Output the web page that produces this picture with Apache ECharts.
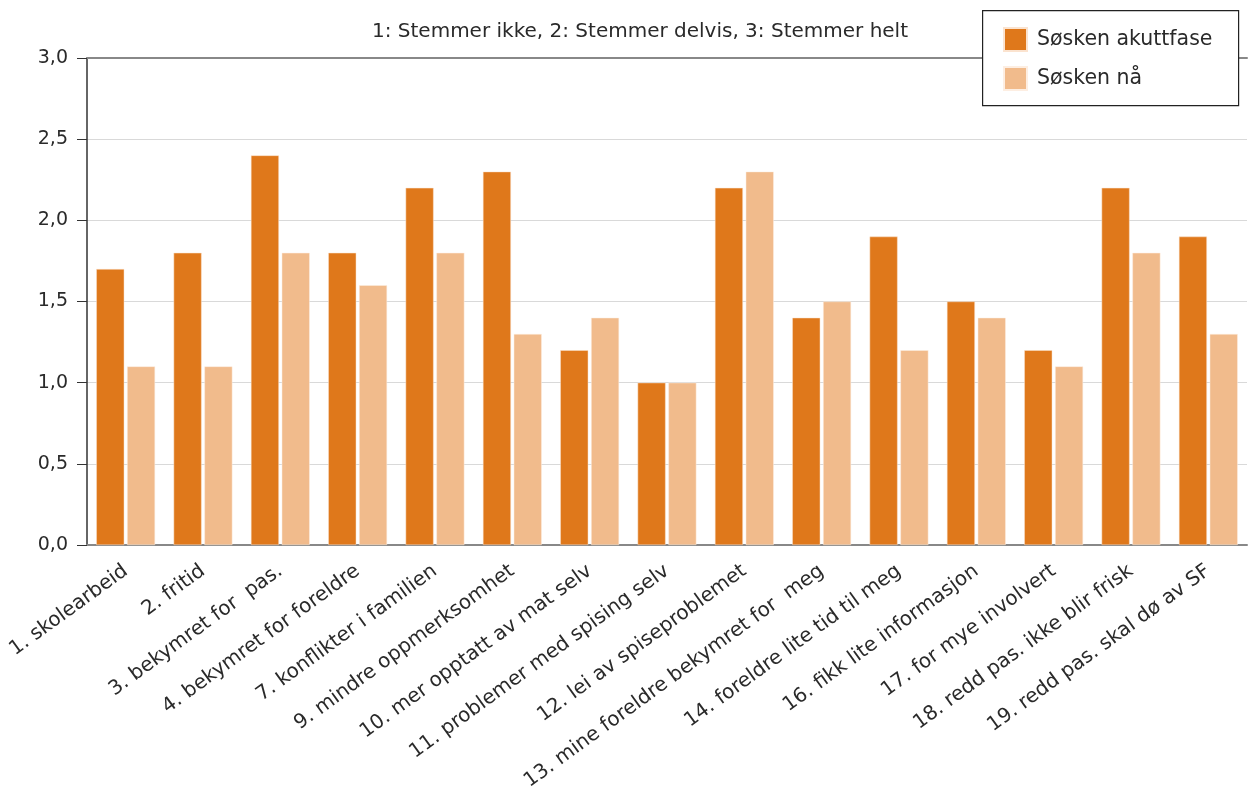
<!DOCTYPE html>
<html>
<head>
<meta charset="utf-8">
<script src="https://cdn.jsdelivr.net/npm/echarts@6/dist/echarts.min.js"></script>
<style>html,body{margin:0;padding:0;background:#fff}#c{width:1256px;height:797px}</style>
</head>
<body>
<div id="c"></div>
<script>
const categories = ["1. skolearbeid", "2. fritid", "3. bekymret for  pas.", "4. bekymret for foreldre", "7. konflikter i familien", "9. mindre oppmerksomhet", "10. mer opptatt av mat selv", "11. problemer med spising selv", "12. lei av spiseproblemet", "13. mine foreldre bekymret for  meg", "14. foreldre lite tid til meg", "16. fikk lite informasjon", "17. for mye involvert", "18. redd pas. ikke blir frisk", "19. redd pas. skal dø av SF"];
const akuttfase = [1.7, 1.8, 2.4, 1.8, 2.2, 2.3, 1.2, 1.0, 2.2, 1.4, 1.9, 1.5, 1.2, 2.2, 1.9];
const naa = [1.1, 1.1, 1.8, 1.6, 1.8, 1.3, 1.4, 1.0, 2.3, 1.5, 1.2, 1.4, 1.1, 1.8, 1.3];
const seriesNames = ["Søsken akuttfase", "Søsken nå"];
const titleText = "1: Stemmer ikke, 2: Stemmer delvis, 3: Stemmer helt";

const FONT = "'DejaVu Sans', sans-serif";
const TXT = '#2a2a2a';
const chart = echarts.init(document.getElementById('c'));
chart.setOption({
  animation: false,
  textStyle: {fontFamily: FONT},
  title: {text: titleText, left: 635, textAlign: 'center', top: 17,
    textStyle: {fontSize: 20, fontWeight: 'normal', color: TXT, fontFamily: FONT}},
  graphic: [{
    type: 'rect', left: 982, top: 10, z: 50,
    shape: {width: 256, height: 95},
    style: {fill: '#fff', stroke: '#222', lineWidth: 1.2}
  }],
  legend: {
    data: seriesNames, orient: 'vertical', left: 1003, top: 27,
    padding: 0, itemGap: 14, itemWidth: 23, itemHeight: 23, icon: 'rect',
    textStyle: {fontSize: 20.5, lineHeight: 23, color: TXT, fontFamily: FONT, padding: [0, 0, 0, 5]},
    z: 60
  },
  grid: {left: 87, right: 9, top: 58, bottom: 252, containLabel: false},
  xAxis: [{
    type: 'category', data: categories,
    axisLine: {lineStyle: {color: '#888', width: 2}},
    axisTick: {show: false},
    axisLabel: {rotate: 36, fontSize: 20, color: TXT, margin: 24, interval: 0, fontFamily: FONT}
  }, {
    type: 'category', data: categories, position: 'top',
    axisLine: {lineStyle: {color: '#888', width: 2}},
    axisTick: {show: false}, axisLabel: {show: false}
  }],
  yAxis: {
    type: 'value', min: 0, max: 3, interval: 0.5,
    axisLine: {show: true, lineStyle: {color: '#333', width: 1.5}},
    axisTick: {show: true, length: 10, lineStyle: {color: '#333'}},
    axisLabel: {fontSize: 19, color: TXT, margin: 19, fontFamily: FONT,
      formatter: v => v.toFixed(1).replace('.', ',')},
    splitLine: {lineStyle: {color: '#d9d9d9', width: 1}}
  },
  series: [{
    name: seriesNames[0], type: 'bar', data: akuttfase, barWidth: 28, barGap: '10%',
    itemStyle: {color: '#DF781B', borderColor: '#fbe3cf', borderWidth: 0.5}
  }, {
    name: seriesNames[1], type: 'bar', data: naa, barWidth: 28,
    itemStyle: {color: '#F1BB8C', borderColor: '#fdeee2', borderWidth: 0.5}
  }]
});
</script>
</body>
</html>
